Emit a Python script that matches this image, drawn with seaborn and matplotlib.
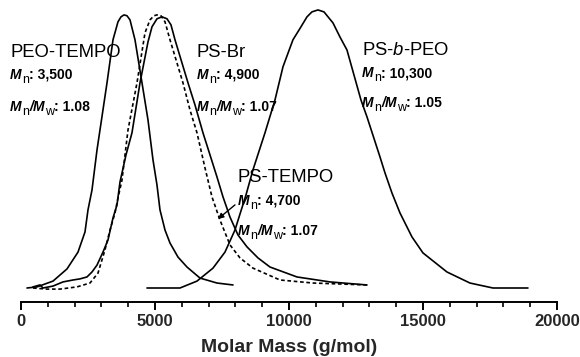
import matplotlib
matplotlib.use("Agg")
import matplotlib.pyplot as plt
from matplotlib.ticker import MultipleLocator
import seaborn as sns
import pandas as pd

# GPC traces: molar mass (g/mol) vs. normalised detector response
peo_tempo_mass = [224, 597, 1194, 1716, 2127, 2388, 2500, 2649, 2836, 3059, 3209, 3433,
                  3619, 3731, 3843, 3955, 4067, 4253, 4515, 4738, 4925, 5074, 5186, 5373,
                  5559, 5858, 6193, 6678, 7313, 7910]
peo_tempo_int = [0.000, 0.004, 0.025, 0.069, 0.130, 0.203, 0.283, 0.355, 0.500, 0.645, 0.743, 0.899,
                 0.964, 0.982, 0.989, 0.986, 0.971, 0.899, 0.743, 0.609, 0.464, 0.373, 0.283, 0.210,
                 0.163, 0.112, 0.076, 0.036, 0.018, 0.011]

ps_br_mass = [448, 709, 821, 1194, 1567, 1940, 2201, 2462, 2649, 2836, 3059, 3246, 3433, 3582,
              3694, 3918, 4141, 4440, 4738, 4888, 5074, 5261, 5447, 5596, 5746, 6231, 6492,
              6790, 7052, 7313, 7537, 7798, 8096, 8432, 8842, 9290, 10298, 11529, 12909]
ps_br_int = [0.004, 0.011, 0.000, 0.007, 0.022, 0.029, 0.033, 0.040, 0.058, 0.083, 0.130, 0.174,
             0.254, 0.301, 0.384, 0.482, 0.562, 0.743, 0.891, 0.946, 0.975, 0.982, 0.975, 0.953,
             0.899, 0.743, 0.663, 0.562, 0.482, 0.402, 0.330, 0.257, 0.192, 0.149, 0.109, 0.076,
             0.040, 0.022, 0.011]

ps_tempo_mass = [448, 970, 1455, 2089, 2574, 2873, 3134, 3321, 3507, 3619, 3768, 3992, 4328,
                 4626, 4813, 4962, 5074, 5223, 5373, 5559, 6044, 6305, 6567, 6865, 7126, 7425,
                 7798, 8171, 8656, 9663, 10895, 12909]
ps_tempo_int = [0.000, -0.004, -0.004, 0.004, 0.018, 0.054, 0.138, 0.210, 0.272, 0.326, 0.391,
                0.572, 0.743, 0.924, 0.971, 0.986, 0.989, 0.986, 0.964, 0.899, 0.743, 0.645,
                0.562, 0.435, 0.330, 0.246, 0.156, 0.109, 0.072, 0.029, 0.018, 0.011]

ps_b_peo_mass = [4701, 5932, 6567, 7164, 7611, 7984, 8395, 8656, 9104, 9477, 9775, 10148,
                 10410, 10671, 10857, 11081, 11305, 11641, 11902, 12163, 12685, 12909, 13394,
                 13581, 13842, 14140, 14588, 14999, 15894, 16752, 17610, 18916]
ps_b_peo_int = [0.000, 0.000, 0.025, 0.072, 0.130, 0.210, 0.337, 0.428, 0.562, 0.681, 0.801,
                0.899, 0.940, 0.982, 1.000, 1.007, 1.000, 0.960, 0.909, 0.862, 0.681, 0.620,
                0.475, 0.417, 0.344, 0.272, 0.185, 0.127, 0.058, 0.018, 0.000, 0.000]

x_ticks = [0, 5000, 10000, 15000, 20000]

sample_names = ["PEO-TEMPO", "PS-Br", "PS-$b$-PEO", "PS-TEMPO"]
mn_values = ["3,500", "4,900", "10,300", "4,700"]
pdi_values = ["1.08", "1.07", "1.05", "1.07"]

sns.set_style("white")
plt.rcParams["font.family"] = ["Liberation Sans", "DejaVu Sans"]
plt.rcParams["mathtext.fontset"] = "custom"
plt.rcParams["mathtext.rm"] = "Liberation Sans"
plt.rcParams["mathtext.it"] = "Liberation Sans:italic"
plt.rcParams["mathtext.bf"] = "Liberation Sans:bold"

fig = plt.figure(figsize=(5.8, 3.57), dpi=100)
ax = fig.add_axes([21 / 580, 55 / 357, 536 / 580, 302 / 357])

traces = [
    (peo_tempo_mass, peo_tempo_int, "-"),
    (ps_br_mass, ps_br_int, "-"),
    (ps_tempo_mass, ps_tempo_int, (0, (2.2, 1.6))),
    (ps_b_peo_mass, ps_b_peo_int, "-"),
]
for mass, inten, ls in traces:
    df = pd.DataFrame({"mass": mass, "intensity": inten})
    sns.lineplot(data=df, x="mass", y="intensity", ax=ax, color="black",
                 linewidth=1.2, linestyle=ls, estimator=None, sort=False)

ax.set_xlim(0, 20000)
ax.set_ylim(-0.0507, 1.043)
ax.set_xticks(x_ticks)
ax.set_xticklabels([str(t) for t in x_ticks], fontsize=12, fontweight="bold")
ax.xaxis.set_minor_locator(MultipleLocator(1000))
ax.tick_params(axis="x", which="major", direction="out", length=6, width=1.4,
               pad=3, bottom=True, color="black")
ax.tick_params(axis="x", which="minor", direction="out", length=3.5, width=1.2,
               bottom=True, color="black")
ax.set_yticks([])
ax.set_ylabel("")
ax.set_xlabel("Molar Mass (g/mol)", fontsize=14, fontweight="bold", labelpad=7)
for side in ("left", "top", "right"):
    ax.spines[side].set_visible(False)
ax.spines["bottom"].set_linewidth(1.4)
ax.spines["bottom"].set_color("black")


def chained_text(x, y, pieces):
    """Write a run of differently styled pieces on one baseline.

    Each piece is (text, fontsize, weight, style, dy) where dy (points)
    lowers/raises that piece relative to the common baseline.
    """
    prev = ax.text(x, y, pieces[0][0], fontsize=pieces[0][1], fontweight=pieces[0][2],
                   fontstyle=pieces[0][3], ha="left", va="baseline", color="black")
    prev_dy = pieces[0][4]
    for text, size, weight, style, dy in pieces[1:]:
        prev = ax.annotate(text, xy=(1, 0), xycoords=prev,
                           xytext=(0.2, dy - prev_dy), textcoords="offset points",
                           fontsize=size, fontweight=weight, fontstyle=style,
                           ha="left", va="bottom", color="black")
        prev_dy = dy


def sub(letter):
    return (letter, 9, "normal", "normal", -3.0)


def mol(letter="M"):
    return (letter, 10, "bold", "italic", 0.0)


def bold(text):
    return (text, 10, "bold", "normal", 0.0)


# (x, title baseline, Mn baseline, PDI baseline) in data units
label_pos = [
    (-410, 0.837, 0.757, 0.641),
    (6567, 0.837, 0.757, 0.641),
    (12723, 0.844, 0.764, 0.656),
    (8096, 0.384, 0.301, 0.192),
]
for (x, y_name, y_mn, y_pdi), name, mn, pdi in zip(label_pos, sample_names, mn_values, pdi_values):
    ax.text(x, y_name, name, fontsize=13.3, color="black", ha="left", va="baseline")
    chained_text(x, y_mn, [mol(), sub("n"), bold(": " + mn)])
    chained_text(x, y_pdi, [mol(), sub("n"), mol("/"), mol(), sub("w"), bold(": " + pdi)])

ax.annotate("", xy=(7350, 0.25), xytext=(7984, 0.301),
            arrowprops=dict(arrowstyle="-|>", color="black", lw=1.0,
                            mutation_scale=8, shrinkA=0, shrinkB=0))

fig.savefig("out.png", dpi=100)
